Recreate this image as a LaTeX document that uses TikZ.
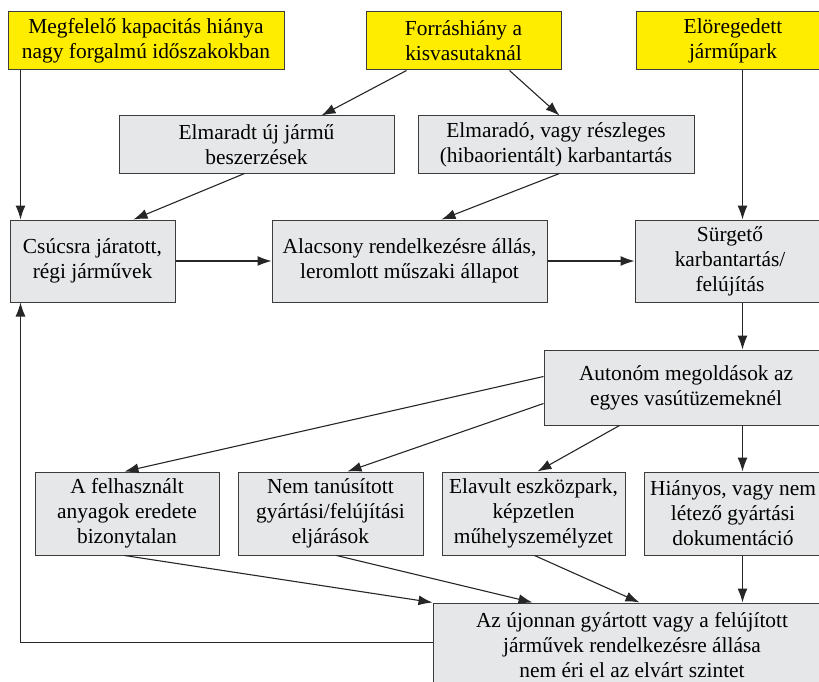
\documentclass[tikz,border=0pt]{standalone}
\usepackage{fontspec}
\setmainfont{Liberation Serif}
\usetikzlibrary{arrows.meta,calc}
\definecolor{boxgrey}{HTML}{E6E7E8}
\definecolor{boxyellow}{HTML}{FFED00}
\definecolor{edgecol}{HTML}{3C3C3C}
\begin{document}
\begin{tikzpicture}[x=1pt,y=-1pt,
  font=\fontsize{21.4}{25}\selectfont,
  basebox/.style={draw=edgecol, line width=1pt, align=center, inner sep=0pt},
  ybox/.style={basebox, fill=boxyellow},
  gbox/.style={basebox, fill=boxgrey},
  arr/.style={draw=black!85, line width=1.1pt, -{Latex[length=14pt,width=10pt]}}]
\useasboundingbox (0,0) rectangle (819,682);
\clip (0,0) rectangle (819,682);
% top row
\node[ybox, minimum width=276pt, minimum height=58pt] (A) at (146,41) {Megfelelő kapacitás hiánya\\nagy forgalmú időszakokban};
\node[ybox, minimum width=195pt, minimum height=58pt] (B) at (463.5,41) {Forráshiány a\\kisvasutaknál};
\node[ybox, minimum width=194pt, minimum height=58pt] (C) at (733,41) {Elöregedett\\járműpark};
% second row
\node[gbox, minimum width=275pt, minimum height=57pt] (D) at (256.5,144.5) {Elmaradt új jármű\\beszerzések};
\node[gbox, minimum width=276pt, minimum height=57pt] (E) at (556,144.5) {Elmaradó, vagy részleges\\(hibaorientált) karbantartás};
% third row
\node[gbox, minimum width=165pt, minimum height=82pt] (F) at (92.5,261) {Csúcsra járatott,\\régi járművek};
\node[gbox, minimum width=275pt, minimum height=82pt] (G) at (409.5,261) {Alacsony rendelkezésre állás,\\leromlott műszaki állapot};
\node[gbox, minimum width=190pt, minimum height=82pt] (H) at (730,261) {Sürgető\\karbantartás/\\felújítás};
% Autonom
\node[gbox, minimum width=284pt, minimum height=75pt] (I) at (686,387.5) {Autonóm megoldások az\\egyes vasútüzemeknél};
% fourth row
\node[gbox, minimum width=184pt, minimum height=83pt] (J) at (127,513.5) {A felhasznált\\anyagok eredete\\bizonytalan};
\node[gbox, minimum width=185pt, minimum height=83pt] (K) at (330.5,513.5) {Nem tanúsított\\gyártási/felújítási\\eljárások};
\node[gbox, minimum width=183pt, minimum height=83pt] (L) at (533.5,513.5) {Elavult eszközpark,\\képzetlen\\műhelyszemélyzet};
\node[gbox, minimum width=178pt, minimum height=83pt] (M) at (733,513.5) {Hiányos, vagy nem\\létező gyártási\\dokumentáció};
% bottom
\node[gbox, minimum width=398pt, minimum height=84pt] (N) at (632,645) {Az újonnan gyártott vagy a felújított\\járművek rendelkezésre állása\\nem éri el az elvárt szintet};
% connectors
\draw[arr] ($(A.south west)+(13,0)$) -- ($(F.north west)+(11,0)$);
\draw[arr] ($(B.south west)+(41,0)$) -- ($(D.north west)+(203,0)$);
\draw[arr] ($(B.south west)+(144,0)$) -- ($(E.north west)+(142,0)$);
\draw[arr] ($(C.south west)+(107,0)$) -- ($(H.north west)+(108,0)$);
\draw[arr] ($(D.south west)+(126,0)$) -- ($(F.north west)+(124,0)$);
\draw[arr] ($(E.south west)+(142,0)$) -- ($(G.north west)+(170,0)$);
\draw[arr] (F.east) -- (G.west);
\draw[arr] (G.east) -- (H.west);
\draw[arr] ($(H.south west)+(108,0)$) -- ($(I.north west)+(199,0)$);
\draw[arr] ($(I.north west)+(0,27)$) -- ($(J.north west)+(90,0)$);
\draw[arr] ($(I.north west)+(0,54)$) -- ($(K.north west)+(110,0)$);
\draw[arr] ($(I.south west)+(76,0)$) -- ($(L.north west)+(96,0)$);
\draw[arr] ($(I.south west)+(199,0)$) -- ($(M.north west)+(99,0)$);
\draw[arr] ($(J.south west)+(90,0)$) -- (N.north west);
\draw[arr] ($(K.south west)+(99,0)$) -- ($(N.north west)+(100,0)$);
\draw[arr] ($(L.south west)+(93,0)$) -- ($(N.north west)+(207,0)$);
\draw[arr] ($(M.south west)+(99,0)$) -- ($(N.north west)+(310,0)$);
\draw[arr] ($(N.north west)+(0,40)$) -| ($(F.south west)+(11,0)$);
\end{tikzpicture}
\end{document}
